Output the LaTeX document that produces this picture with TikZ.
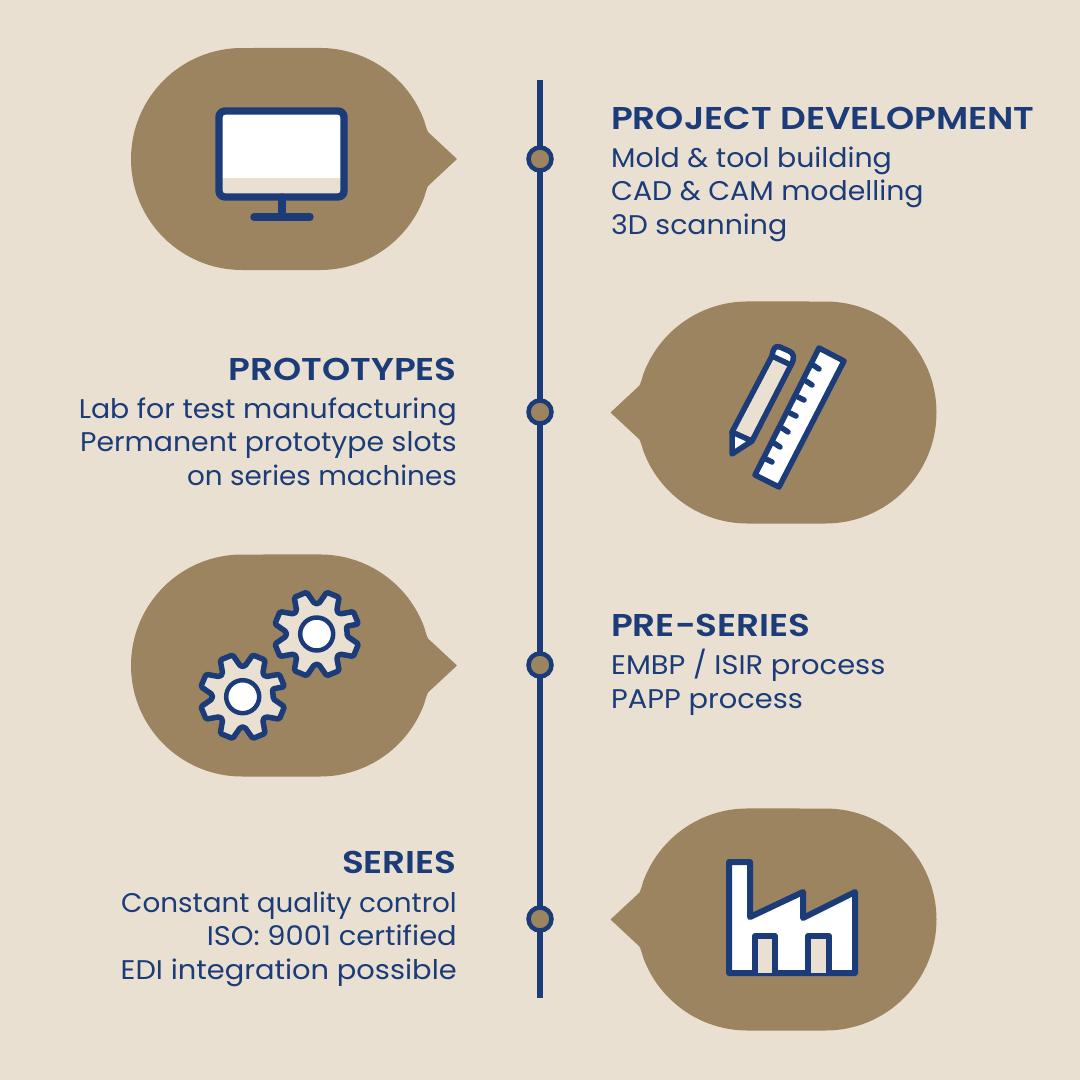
\documentclass[tikz,border=0pt]{standalone}
\usepackage{fontspec}
\setmainfont[FakeStretch=1.05]{Poppins}
\newfontfamily\widefont[FakeStretch=1.07]{Poppins}
\newfontfamily\tightfont[FakeStretch=1.03]{Poppins}
\newfontfamily\titlefont[FakeStretch=1.138]{Poppins SemiBold}
\definecolor{bgc}{HTML}{E9E0D2}
\definecolor{brownc}{HTML}{9C8460}
\definecolor{bluec}{HTML}{1B3C78}
\tikzset{
  bubble/.pic={\fill[brownc] (137,0) -- (108,27) .. controls (106,32) and (105,35) .. (104.3,38)
     arc[start angle=20,end angle=90,radius=111pt] -- (-78,111)
     arc[start angle=90,end angle=270,radius=111pt] -- (0,-111)
     arc[start angle=270,end angle=340,radius=111pt]
     .. controls (105,-35) and (106,-32) .. (108,-27) -- cycle;},
  dot/.style={circle,draw=bluec,fill=brownc,line width=4.5pt,minimum size=23pt,inner sep=0pt},
  headtxt/.style={font=\titlefont\fontsize{31.5}{33.5}\selectfont,text=bluec,inner sep=0pt},
  bodytxt/.style={font=\fontsize{27}{33.5}\selectfont,text=bluec,inner sep=0pt},
  widetxt/.style={font=\widefont\fontsize{27}{33.5}\selectfont,text=bluec,inner sep=0pt},
  tighttxt/.style={font=\tightfont\fontsize{27}{33.5}\selectfont,text=bluec,inner sep=0pt},
  icon/.style={draw=bluec,line join=round,line cap=round},
  gearpic/.pic={
    \draw[icon,fill=bgc,line width=5.5pt,rounded corners=1.5pt]
      (14.5:30.5) \foreach \a in {22.5,67.5,...,337.5}{
        -- (\a-9:43) -- (\a+9:43) -- (\a+18.5:30.5) -- (\a+26.5:30.5)} -- cycle;
    \draw[icon,fill=white,line width=4.5pt] (0,0) circle[radius=16.5pt];
  }
}
\begin{document}
\begin{tikzpicture}[x=1pt,y=1pt,yscale=-1]
\useasboundingbox (0,0) rectangle (1080,1080);
\fill[bgc] (0,0) rectangle (1080,1080);
\pic at (320,159) {bubble};
\pic[xscale=-1] at (747.5,412.5) {bubble};
\pic at (320,665.5) {bubble};
\pic[xscale=-1] at (747.5,919.5) {bubble};
% timeline
\coordinate (top) at (540,80);
\coordinate (bot) at (540,998);
\draw[bluec,line width=5.5pt] (top) -- (bot);
\node[dot] (d1) at (540,159) {};
\node[dot] (d2) at (540,412) {};
\node[dot] (d3) at (540,665) {};
\node[dot] (d4) at (540,919) {};
% texts
\node[headtxt,anchor=base west] (h1) at (611,129) {PROJECT DEVELOPMENT};
\node[bodytxt,anchor=base west] (b1a) at (611,167) {Mold \& tool building};
\node[bodytxt,anchor=base west] (b1b) at (611,200) {CAD \& CAM modelling};
\node[bodytxt,anchor=base west] (b1c) at (611,234) {3D scanning};
\node[headtxt,anchor=base east] (h2) at (457,380) {PROTOTYPES};
\node[bodytxt,anchor=base east] (b2a) at (457,418) {Lab for test manufacturing};
\node[bodytxt,anchor=base east] (b2b) at (457,451) {Permanent prototype slots};
\node[tighttxt,anchor=base east] (b2c) at (457,485) {on series machines};
\node[headtxt,anchor=base west] (h3) at (611,636) {PRE-SERIES};
\node[widetxt,anchor=base west] (b3a) at (611,674) {EMBP / ISIR process};
\node[widetxt,anchor=base west] (b3b) at (611,708) {PAPP process};
\node[headtxt,anchor=base east] (h4) at (457,873) {SERIES};
\node[tighttxt,anchor=base east] (b4a) at (457,912) {Constant quality control};
\node[widetxt,anchor=base east] (b4b) at (457,945) {ISO: 9001 certified};
\node[widetxt,anchor=base east] (b4c) at (457,979) {EDI integration possible};
% monitor
\fill[white] (219,111) rectangle (344,178);
\fill[bgc] (219,178) rectangle (344,197);
\draw[icon,line width=7.4pt,rounded corners=6pt] (219,111) rectangle (344,197);
\draw[icon,line width=7.4pt] (282,197) -- (282,217) (254,217) -- (310,217);
% pencil
\fill[bgc] (732,432) -- (772,356) -- (791,365) -- (752,441) -- cycle;
\draw[icon,fill=white,line width=5.5pt] (732,454) -- (732,432) -- (752,441) -- cycle;
\draw[icon,fill=white,line width=5.5pt] (772,356) .. controls (773,349) and (775,345) .. (780,347) -- (789,351) .. controls (794,353) and (795,358) .. (791,365) -- cycle;
\draw[icon,line width=5.5pt] (732,432) -- (772,356) (752,441) -- (791,365);
% ruler
\draw[icon,fill=white,line width=5.5pt] (819,348) -- (844,361) -- (779,487) -- (755,475) -- cycle;
\draw[icon,line width=5.5pt]
 (813,365) -- (819,369) (806,381) -- (812,385) (798,397) -- (804,400) (790,413) -- (796,416)
 (782,428) -- (788,432) (774,443) -- (780,447) (766,459) -- (772,462);
% gears
\pic at (316.7,634) {gearpic};
\pic at (242.7,696.7) {gearpic};
% factory
\draw[icon,fill=white,line width=6pt] (729,862) -- (750,862) -- (750,917) -- (803,892) -- (803,918) -- (855,892) -- (855,973) -- (729,973) -- cycle;
\draw[icon,fill=bgc,line width=6pt] (755,973) -- (755,936) -- (775,936) -- (775,973);
\draw[icon,fill=bgc,line width=6pt] (808,973) -- (808,936) -- (829,936) -- (829,973);
\end{tikzpicture}
\end{document}
